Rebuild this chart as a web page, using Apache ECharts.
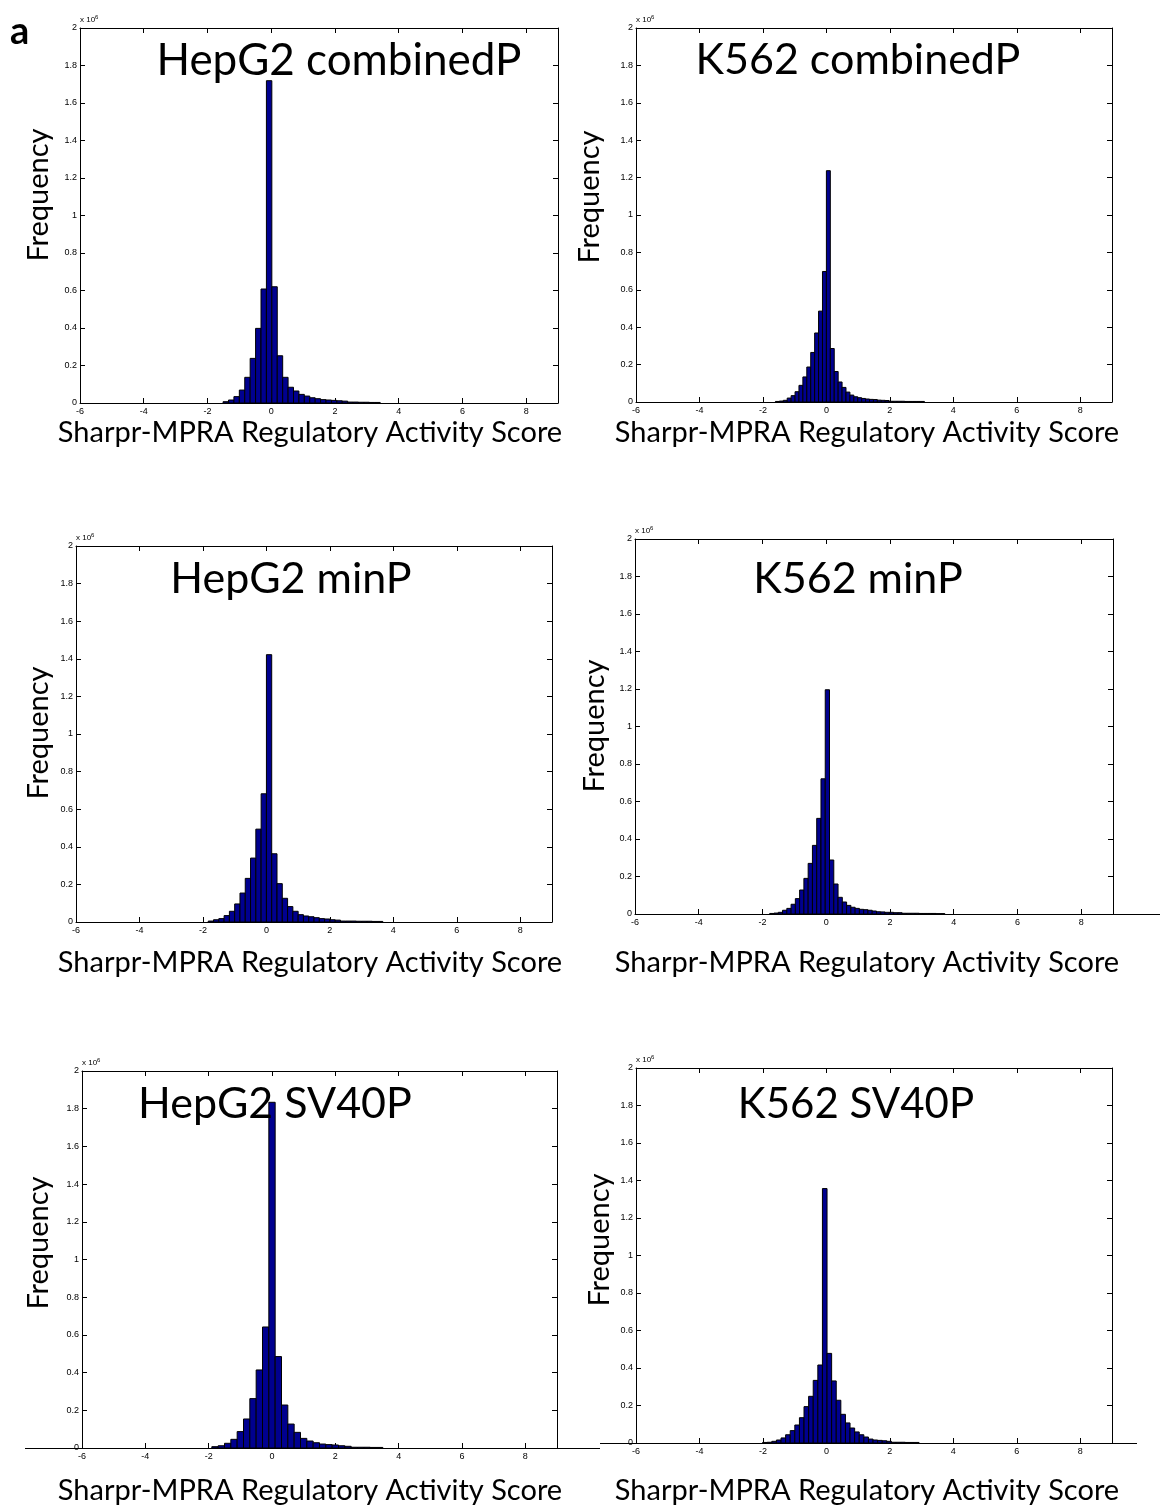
<!DOCTYPE html>
<html><head><meta charset="utf-8">
<script src="https://cdn.jsdelivr.net/npm/echarts@6/dist/echarts.min.js"></script>
<style>html,body{margin:0;padding:0;background:#fff}#c{width:1160px;height:1507px}</style>
</head><body><div id="c"></div>
<script>
// ---- data (frequencies in units of 10^6) ----
const panelTitles = ['HepG2 combinedP', 'K562 combinedP', 'HepG2 minP', 'K562 minP', 'HepG2 SV40P', 'K562 SV40P'];
const xAxisTitle = 'Sharpr-MPRA Regulatory Activity Score';
const yAxisTitle = 'Frequency';
const xMin = -6, xMax = 9, xStep = 2;
const yMin = 0, yMax = 2, yStep = 0.2;
// first bin edge and bin width for each panel
const binFirstEdge = [-1.51, -1.6055, -1.833, -1.772, -1.9, -2.01];
const binWidth = [0.17, 0.1235, 0.1667, 0.134, 0.2, 0.145];
const hepg2CombinedP = [0.007, 0.016, 0.034, 0.069, 0.137, 0.238, 0.398, 0.608, 1.719, 0.620, 0.252, 0.137, 0.084, 0.064, 0.046, 0.037, 0.028, 0.023, 0.018, 0.016, 0.014, 0.012, 0.010, 0.005, 0.005, 0.004, 0.004, 0.003, 0.003];
const k562CombinedP = [0.003, 0.005, 0.009, 0.021, 0.034, 0.055, 0.089, 0.134, 0.187, 0.265, 0.369, 0.486, 0.698, 1.237, 0.286, 0.163, 0.107, 0.078, 0.053, 0.037, 0.028, 0.023, 0.019, 0.016, 0.014, 0.013, 0.010, 0.009, 0.008, 0.004, 0.004, 0.004, 0.004, 0.003, 0.003, 0.003, 0.003, 0.003];
const hepg2MinP = [0.005, 0.012, 0.018, 0.034, 0.057, 0.096, 0.154, 0.232, 0.340, 0.494, 0.682, 1.422, 0.363, 0.204, 0.126, 0.082, 0.057, 0.039, 0.032, 0.028, 0.023, 0.018, 0.016, 0.012, 0.010, 0.005, 0.005, 0.005, 0.004, 0.004, 0.004, 0.003, 0.003];
const k562MinP = [0.003, 0.005, 0.009, 0.020, 0.030, 0.052, 0.082, 0.128, 0.190, 0.270, 0.366, 0.510, 0.721, 1.196, 0.288, 0.160, 0.089, 0.064, 0.046, 0.036, 0.030, 0.025, 0.023, 0.020, 0.016, 0.012, 0.011, 0.009, 0.009, 0.007, 0.007, 0.004, 0.004, 0.004, 0.004, 0.003, 0.003, 0.003, 0.003, 0.002, 0.002];
const hepg2SV40P = [0.007, 0.012, 0.025, 0.046, 0.087, 0.154, 0.262, 0.414, 0.642, 1.834, 0.485, 0.228, 0.127, 0.083, 0.051, 0.037, 0.028, 0.021, 0.018, 0.016, 0.012, 0.009, 0.004, 0.004, 0.004, 0.003, 0.003];
const k562SV40P = [0.003, 0.004, 0.009, 0.016, 0.027, 0.044, 0.066, 0.096, 0.135, 0.194, 0.249, 0.334, 0.416, 1.357, 0.478, 0.331, 0.228, 0.153, 0.107, 0.080, 0.059, 0.044, 0.032, 0.021, 0.016, 0.014, 0.012, 0.009, 0.004, 0.004, 0.004, 0.003, 0.003, 0.003];
const panelCounts = [hepg2CombinedP, k562CombinedP, hepg2MinP, k562MinP, hepg2SV40P, k562SV40P];

// ---- layout ----
const grids = [
  {left: 80, top: 28, width: 478, height: 375},
  {left: 636, top: 28, width: 476, height: 374},
  {left: 76, top: 546, width: 476, height: 376},
  {left: 635, top: 539, width: 478, height: 375},
  {left: 82, top: 1071, width: 475, height: 377},
  {left: 636, top: 1068, width: 476, height: 375}
];
const titlePos = [[334, 34], [853, 34], [286, 553], [853, 553], [270, 1078], [851, 1078]];
const titleSize = [44, 43, 43, 43, 43, 42];
const freqPos = [[39, 195], [590, 197], [39, 733], [595, 726], [39, 1243], [600, 1240]];
const xlabPos = [[310, 433], [867, 433], [310, 963], [867, 963], [310, 1491], [867, 1491]];

const labelFont = 'Lato';
const tickFont = 'Liberation Sans';

function renderBar(params, api) {
  const p0 = api.coord([api.value(0), api.value(2)]);
  const p1 = api.coord([api.value(1), 0]);
  return {
    type: 'rect',
    shape: {x: p0[0], y: p0[1], width: p1[0] - p0[0], height: p1[1] - p0[1]},
    style: {fill: '#00008F', stroke: '#000', lineWidth: 1}
  };
}

const option = {
  backgroundColor: '#fff',
  animation: false,
  grid: [], xAxis: [], yAxis: [], series: [], title: [], graphic: []
};

panelCounts.forEach((counts, i) => {
  option.grid.push(Object.assign({show: false}, grids[i]));
  const baseX = {
    type: 'value', gridIndex: i, min: xMin, max: xMax, interval: xStep,
    splitLine: {show: false},
    axisLine: {onZero: false, lineStyle: {color: '#000', width: 1}},
    axisTick: {inside: true, length: 5, lineStyle: {color: '#000'}}
  };
  option.xAxis.push(Object.assign({}, baseX, {
    position: 'bottom',
    axisLabel: {fontFamily: tickFont, fontSize: 9, color: '#000', margin: 4, showMaxLabel: false}
  }));
  option.xAxis.push(Object.assign({}, baseX, {position: 'top', axisLabel: {show: false}}));
  const baseY = {
    type: 'value', gridIndex: i, min: yMin, max: yMax, interval: yStep,
    splitLine: {show: false},
    axisLine: {onZero: false, lineStyle: {color: '#000', width: 1}},
    axisTick: {inside: true, length: 5, lineStyle: {color: '#000'}}
  };
  option.yAxis.push(Object.assign({}, baseY, {
    position: 'left',
    axisLabel: {fontFamily: tickFont, fontSize: 9, color: '#000', margin: 3},
    name: '{a|x 10}{b|6}',
    nameLocation: 'end', nameGap: 2,
    nameTextStyle: {
      align: 'left', padding: [0, 0, 0, 0],
      rich: {a: {fontFamily: tickFont, fontSize: 8, color: '#000'},
             b: {fontFamily: tickFont, fontSize: 6, color: '#000', verticalAlign: 'top', padding: [0, 0, 5, 0]}}
    }
  }));
  option.yAxis.push(Object.assign({}, baseY, {position: 'right', axisLabel: {show: false}}));

  const data = counts.map((c, k) => [binFirstEdge[i] + k * binWidth[i], binFirstEdge[i] + (k + 1) * binWidth[i], c]);
  option.series.push({
    type: 'custom', xAxisIndex: 2 * i, yAxisIndex: 2 * i,
    renderItem: renderBar, encode: {x: [0, 1], y: 2}, data: data, clip: false
  });

  option.title.push({
    text: panelTitles[i], left: titlePos[i][0], top: titlePos[i][1], textAlign: 'center',
    textStyle: {fontFamily: labelFont, fontWeight: 'normal', fontSize: titleSize[i], color: '#000'}
  });
  option.graphic.push({
    type: 'text', x: freqPos[i][0], y: freqPos[i][1], rotation: Math.PI / 2,
    style: {text: yAxisTitle, fontFamily: labelFont, fontSize: 29, fill: '#000', align: 'center', verticalAlign: 'middle'}
  });
  option.graphic.push({
    type: 'text', x: xlabPos[i][0], y: xlabPos[i][1],
    style: {text: xAxisTitle, fontFamily: labelFont, fontSize: 29, fill: '#000', align: 'center', verticalAlign: 'middle'}
  });
});

option.graphic.push({
  type: 'text', x: 10, y: 32,
  style: {text: 'a', fontFamily: labelFont, fontWeight: 'bold', fontSize: 38, fill: '#000', verticalAlign: 'middle'}
});
// x-axis line extensions seen in the composed figure
const extLine = {stroke: '#000', lineWidth: 1};
option.graphic.push({type: 'line', shape: {x1: 1113, y1: 914.5, x2: 1160, y2: 914.5}, style: extLine});
option.graphic.push({type: 'line', shape: {x1: 25, y1: 1448.5, x2: 82, y2: 1448.5}, style: extLine});
option.graphic.push({type: 'line', shape: {x1: 557, y1: 1448.5, x2: 600, y2: 1448.5}, style: extLine});
option.graphic.push({type: 'line', shape: {x1: 600, y1: 1443.5, x2: 636, y2: 1443.5}, style: extLine});
option.graphic.push({type: 'line', shape: {x1: 1112, y1: 1443.5, x2: 1137, y2: 1443.5}, style: extLine});

const chart = echarts.init(document.getElementById('c'), null, {renderer: 'canvas'});
chart.setOption(option);
</script>
</body></html>
